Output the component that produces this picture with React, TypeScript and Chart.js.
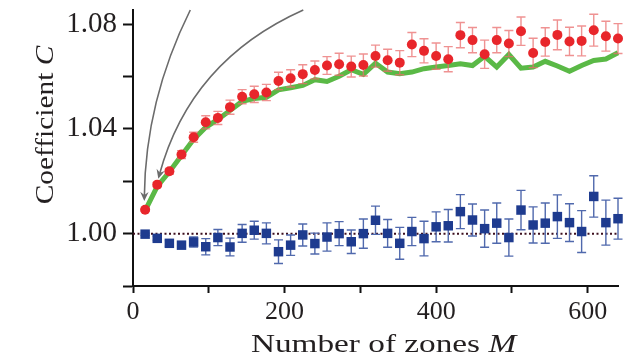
import React, { useEffect, useRef } from 'react';
import { Chart, registerables } from 'chart.js';

Chart.register(...registerables);

// ---------- data ----------
const zonesM = [16, 32, 48, 64, 80, 96, 112, 128, 144, 160, 176, 192, 208, 224, 240, 256, 272, 288, 304, 320,
  336, 352, 368, 384, 400, 416, 432, 448, 464, 480, 496, 512, 528, 544, 560, 576, 592, 608, 624, 640];

const redC = [1.0091, 1.0187, 1.0238, 1.0302, 1.0368, 1.0425, 1.0442, 1.0483, 1.0523, 1.0532, 1.0539, 1.0583,
  1.0593, 1.0609, 1.0625, 1.0642, 1.0647, 1.0638, 1.0644, 1.0678, 1.0662, 1.0653, 1.0722, 1.0698, 1.0678, 1.0666,
  1.0758, 1.0739, 1.0685, 1.0739, 1.0726, 1.0773, 1.0690, 1.0732, 1.0759, 1.0734, 1.0736, 1.0777, 1.0754, 1.0745];

const redErr = [0.0004, 0.0008, 0.0011, 0.0015, 0.0019, 0.0025, 0.0025, 0.0027, 0.0027, 0.0031, 0.0031, 0.0033,
  0.0033, 0.0036, 0.0034, 0.0034, 0.0042, 0.0040, 0.0042, 0.0042, 0.0042, 0.0046, 0.0046, 0.0046, 0.0050, 0.0048,
  0.0048, 0.0048, 0.0054, 0.0048, 0.0050, 0.0054, 0.0056, 0.0054, 0.0057, 0.0054, 0.0057, 0.0061, 0.0057, 0.0057];

const greenC = [1.0088, 1.0180, 1.0236, 1.0298, 1.0360, 1.0406, 1.0436, 1.0470, 1.0505, 1.0516, 1.0521, 1.0549,
  1.0557, 1.0566, 1.0588, 1.0581, 1.0601, 1.0626, 1.0608, 1.0651, 1.0617, 1.0611, 1.0617, 1.0630, 1.0636, 1.0642,
  1.0649, 1.0642, 1.0677, 1.0636, 1.0684, 1.0632, 1.0636, 1.0658, 1.0640, 1.0620, 1.0642, 1.0661, 1.0667, 1.0691];

const blueC = [0.9998, 0.9982, 0.9963, 0.9956, 0.9968, 0.9950, 0.9985, 0.9949, 1.0001, 1.0013, 1.0001, 0.9931,
  0.9956, 0.9995, 0.9962, 0.9987, 1.0000, 0.9969, 1.0000, 1.0051, 1.0001, 0.9963, 1.0008, 0.9981, 1.0026, 1.0030,
  1.0084, 1.0052, 1.0019, 1.0040, 0.9985, 1.0090, 1.0033, 1.0040, 1.0065, 1.0042, 1.0008, 1.0142, 1.0042, 1.0057];

const blueErr = [0.0004, 0.0008, 0.0011, 0.0013, 0.0019, 0.0031, 0.0031, 0.0034, 0.0034, 0.0034, 0.0040, 0.0045,
  0.0039, 0.0042, 0.0040, 0.0054, 0.0046, 0.0045, 0.0056, 0.0054, 0.0053, 0.0061, 0.0054, 0.0066, 0.0057, 0.0062,
  0.0065, 0.0061, 0.0071, 0.0077, 0.0071, 0.0075, 0.0069, 0.0077, 0.0083, 0.0072, 0.0080, 0.0079, 0.0086, 0.0078];

const refLineM = [0, 640];
const refLineC = [1.0, 1.0];

const xTicks = [0, 100, 200, 300, 400, 500, 600];
const xTickLabels = [0, 200, 400, 600];
const yTicks = [0.98, 1.0, 1.02, 1.04, 1.06, 1.08];
const yTickLabels = [1.0, 1.04, 1.08];

// curved annotation arrows (data coordinates)
const arrowStartM = [75.6, 224.7];
const arrowStartC = [1.0854, 1.0854];
const arrowCtrlM = [16.2, 75.6];
const arrowCtrlC = [1.0508, 1.0661];
const arrowEndM = [14.9, 33.4];
const arrowEndC = [1.0125, 1.021];

const xTitleParts: [string, boolean][] = [['Number of zones ', false], ['M', true]];
const yTitleParts: [string, boolean][] = [['Coefficient ', false], ['C', true]];

// ---------- styles ----------
const SERIF = '"Liberation Serif", "Times New Roman", serif';
const TEXT = '#231f20';
const RED = '#e8262b';
const RED_BAR = 'rgba(234, 110, 110, 0.75)';
const BLUE = '#1e3b8f';
const BLUE_BAR = '#5069ad';
const GREEN = '#5ab946';

const near = (a: number, b: number) => Math.abs(a - b) < 1e-9;

function drawParts(ctx: CanvasRenderingContext2D, parts: [string, boolean][], size: number, sx: number) {
  const font = (it: boolean) => `${it ? 'italic ' : ''}${size}px ${SERIF}`;
  let total = 0;
  const widths = parts.map(([t, it]) => {
    ctx.font = font(it);
    const w = ctx.measureText(t).width;
    total += w;
    return w;
  });
  ctx.scale(sx, 1);
  let x = -total / 2;
  parts.forEach(([t, it], i) => {
    ctx.font = font(it);
    ctx.fillText(t, x, 0);
    x += widths[i];
  });
}

const errorBarPlugin = {
  id: 'errorBars',
  beforeDatasetDraw(chart: any, args: any) {
    const ds = chart.data.datasets[args.index];
    if (!ds.errors) return;
    const xs = chart.scales.x;
    const ys = chart.scales.y;
    const ctx = chart.ctx;
    ctx.save();
    ctx.strokeStyle = ds.barColor;
    ctx.lineWidth = 1.4;
    const cap = 4.5;
    ds.data.forEach((p: any, i: number) => {
      const e = ds.errors[i];
      const px = xs.getPixelForValue(p.x);
      const yTop = ys.getPixelForValue(p.y + e);
      const yBot = ys.getPixelForValue(p.y - e);
      ctx.beginPath();
      ctx.moveTo(px, yTop);
      ctx.lineTo(px, yBot);
      ctx.moveTo(px - cap, yTop);
      ctx.lineTo(px + cap, yTop);
      ctx.moveTo(px - cap, yBot);
      ctx.lineTo(px + cap, yBot);
      ctx.stroke();
    });
    ctx.restore();
  },
};

const arrowsPlugin = {
  id: 'arrows',
  afterDatasetsDraw(chart: any) {
    const xs = chart.scales.x;
    const ys = chart.scales.y;
    const ctx = chart.ctx;
    ctx.save();
    ctx.strokeStyle = '#6b6b6b';
    ctx.fillStyle = '#6b6b6b';
    ctx.lineWidth = 1.6;
    for (let i = 0; i < arrowStartM.length; i++) {
      const x0 = xs.getPixelForValue(arrowStartM[i]);
      const y0 = ys.getPixelForValue(arrowStartC[i]);
      const cx = xs.getPixelForValue(arrowCtrlM[i]);
      const cy = ys.getPixelForValue(arrowCtrlC[i]);
      const x1 = xs.getPixelForValue(arrowEndM[i]);
      const y1 = ys.getPixelForValue(arrowEndC[i]);
      const ang = Math.atan2(y1 - cy, x1 - cx);
      const len = 9;
      const half = 4.2;
      const bx = x1 - Math.cos(ang) * len;
      const by = y1 - Math.sin(ang) * len;
      ctx.beginPath();
      ctx.moveTo(x0, y0);
      ctx.quadraticCurveTo(cx, cy, x1 - Math.cos(ang) * 4, y1 - Math.sin(ang) * 4);
      ctx.stroke();
      const nx = -Math.sin(ang);
      const ny = Math.cos(ang);
      ctx.beginPath();
      ctx.moveTo(x1, y1);
      ctx.lineTo(bx + nx * half, by + ny * half);
      ctx.lineTo(x1 - Math.cos(ang) * 6, y1 - Math.sin(ang) * 6);
      ctx.lineTo(bx - nx * half, by - ny * half);
      ctx.closePath();
      ctx.fill();
    }
    ctx.restore();
  },
};

const titlesPlugin = {
  id: 'axisTitles',
  afterDraw(chart: any) {
    const ctx = chart.ctx;
    const area = chart.chartArea;
    ctx.save();
    ctx.fillStyle = TEXT;
    ctx.textAlign = 'left';
    ctx.textBaseline = 'alphabetic';
    // x title
    ctx.save();
    ctx.translate((area.left + area.right) / 2 + 8, chart.height - 4);
    drawParts(ctx, xTitleParts, 26, 1.28);
    ctx.restore();
    // y title
    ctx.save();
    ctx.translate(53, (area.top + area.bottom) / 2 - 23);
    ctx.rotate(-Math.PI / 2);
    drawParts(ctx, yTitleParts, 26, 1.13);
    ctx.restore();
    ctx.restore();
  },
};

export default function App() {
  const canvasRef = useRef<HTMLCanvasElement | null>(null);

  useEffect(() => {
    const canvas = canvasRef.current;
    if (!canvas) return;
    const pts = (ys: number[]) => zonesM.map((m, i) => ({ x: m, y: ys[i] }));

    const chart = new Chart(canvas, {
      type: 'scatter',
      data: {
        datasets: [
          {
            label: 'green',
            data: pts(greenC),
            showLine: true,
            borderColor: GREEN,
            borderWidth: 5,
            pointRadius: 0,
            tension: 0,
            order: 3,
            clip: false,
          } as any,
          {
            label: 'reference',
            data: refLineM.map((m, i) => ({ x: m, y: refLineC[i] })),
            showLine: true,
            borderColor: '#3d0f1e',
            borderWidth: 2,
            borderDash: [2, 2.5],
            pointRadius: 0,
            order: 2,
            clip: false,
          } as any,
          {
            label: 'blue',
            data: pts(blueC),
            showLine: false,
            pointStyle: 'rect',
            pointRadius: 6.7,
            pointBackgroundColor: BLUE,
            pointBorderWidth: 0,
            borderColor: BLUE,
            order: 1,
            clip: false,
            errors: blueErr,
            barColor: BLUE_BAR,
          } as any,
          {
            label: 'red',
            data: pts(redC),
            showLine: false,
            pointStyle: 'circle',
            pointRadius: 5,
            pointBackgroundColor: RED,
            pointBorderWidth: 0,
            borderColor: RED,
            order: 0,
            clip: false,
            errors: redErr,
            barColor: RED_BAR,
          } as any,
        ],
      },
      options: {
        animation: false,
        responsive: false,
        devicePixelRatio: 1,
        events: [],
        layout: { padding: { top: 10, right: 13, left: 0, bottom: 0 } },
        plugins: { legend: { display: false }, tooltip: { enabled: false } },
        scales: {
          x: {
            type: 'linear',
            position: 'bottom',
            min: 0,
            max: 640,
            afterBuildTicks: (scale: any) => {
              scale.ticks = xTicks.map((v) => ({ value: v }));
            },
            afterFit: (scale: any) => {
              scale.height = 70;
              scale.paddingLeft = 0;
              scale.paddingRight = 0;
            },
            ticks: {
              autoSkip: false,
              maxRotation: 0,
              padding: 4,
              color: TEXT,
              font: { family: SERIF, size: 26 },
              callback: (v: any) => (xTickLabels.some((t) => near(t, Number(v))) ? String(v) : ''),
            },
            grid: { drawOnChartArea: false, drawTicks: true, tickLength: 7, tickWidth: 2, tickColor: '#111' },
            border: { display: true, color: '#111', width: 2 },
          },
          y: {
            type: 'linear',
            min: 0.98,
            max: 1.0854,
            afterBuildTicks: (scale: any) => {
              scale.ticks = yTicks.map((v) => ({ value: v }));
            },
            afterFit: (scale: any) => {
              scale.width = 133;
              scale.paddingTop = 0;
              scale.paddingBottom = 0;
            },
            ticks: {
              autoSkip: false,
              padding: 6,
              color: TEXT,
              font: { family: SERIF, size: 29 },
              callback: (v: any) => (yTickLabels.some((t) => near(t, Number(v))) ? Number(v).toFixed(2) : ''),
            },
            grid: { drawOnChartArea: false, drawTicks: true, tickLength: 10, tickWidth: 2, tickColor: '#111' },
            border: { display: true, color: '#111', width: 2 },
          },
        },
      } as any,
      plugins: [errorBarPlugin, arrowsPlugin, titlesPlugin],
    });

    return () => chart.destroy();
  }, []);

  return (
    <div style={{ position: 'fixed', left: 0, top: 0, width: 631, height: 356, background: '#fff' }}>
      <canvas ref={canvasRef} width={631} height={356} style={{ width: 631, height: 356 }} />
    </div>
  );
}
